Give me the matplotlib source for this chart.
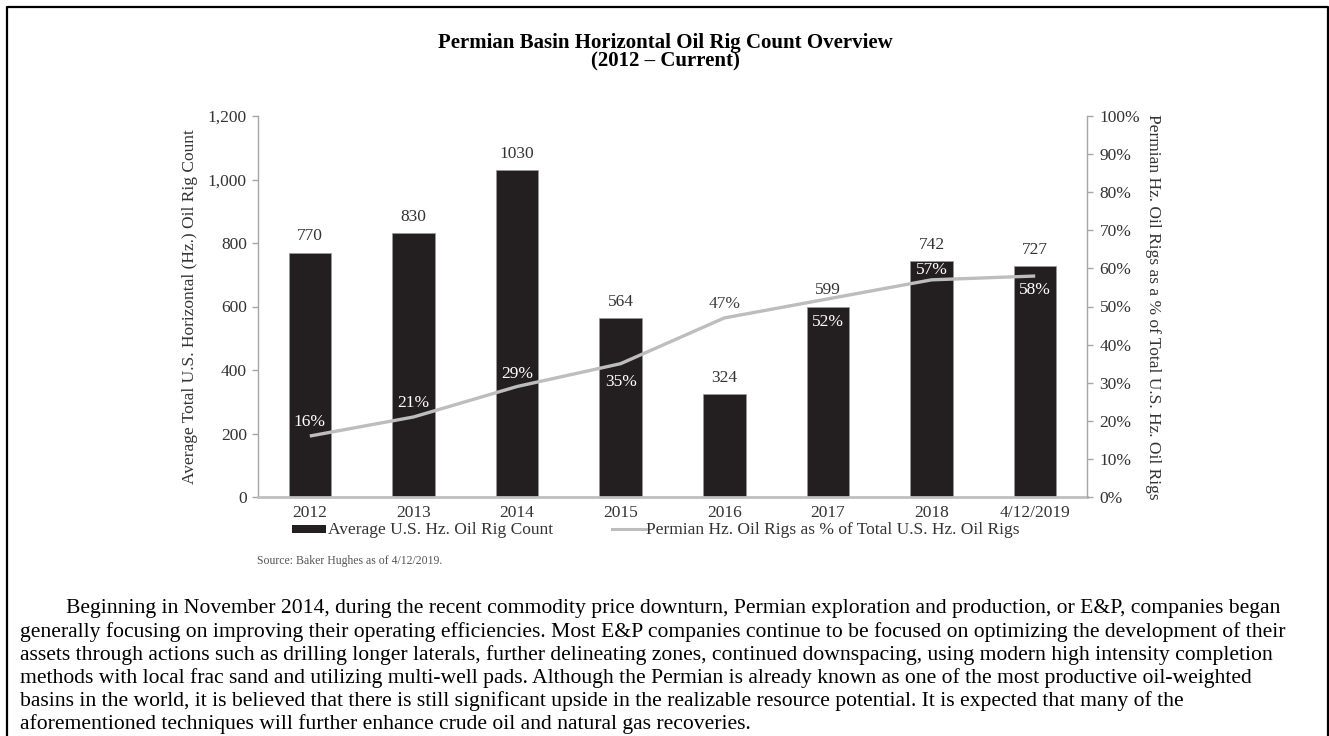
import matplotlib
matplotlib.use("Agg")
import matplotlib.pyplot as plt
from matplotlib.patches import Rectangle
from matplotlib.lines import Line2D
import numpy as np

plt.rcParams['font.family'] = ['Liberation Serif', 'DejaVu Serif']

# ---- data ----
categories = ["2012", "2013", "2014", "2015", "2016", "2017", "2018", "4/12/2019"]
rig_count = [770, 830, 1030, 564, 324, 599, 742, 727]
permian_pct = [16, 21, 29, 35, 47, 52, 57, 58]

title_lines = ["Permian Basin Horizontal Oil Rig Count Overview", "(2012 \u2013 Current)"]
left_label = "Average Total U.S. Horizontal (Hz.) Oil Rig Count"
right_label = "Permian Hz. Oil Rigs as a % of Total U.S. Hz. Oil Rigs"
legend_bar = "Average U.S. Hz. Oil Rig Count"
legend_line = "Permian Hz. Oil Rigs as % of Total U.S. Hz. Oil Rigs"
source_text = "Source: Baker Hughes as of 4/12/2019."
paragraph_lines = [
    "Beginning in November 2014, during the recent commodity price downturn, Permian exploration and production, or E&P, companies began",
    "generally focusing on improving their operating efficiencies. Most E&P companies continue to be focused on optimizing the development of their",
    "assets through actions such as drilling longer laterals, further delineating zones, continued downspacing, using modern high intensity completion",
    "methods with local frac sand and utilizing multi-well pads. Although the Permian is already known as one of the most productive oil-weighted",
    "basins in the world, it is believed that there is still significant upside in the realizable resource potential. It is expected that many of the",
    "aforementioned techniques will further enhance crude oil and natural gas recoveries.",
]

# ---- style ----
W, H, DPI = 1329, 736, 100
bar_color = "#231f20"
line_color = "#bdbdbd"
axis_color = "#a6a6a6"
text_color = "#333333"
FS = 12.5
# label offsets in points (positive = above point)
pct_offsets = [10, 10, 9, -13, 10, -17, 7, -10]
pct_colors = ["white", "white", "white", "white", "#404040", "white", "white", "white"]

fig = plt.figure(figsize=(W / DPI, H / DPI), dpi=DPI)
fig.patch.set_facecolor("white")

# outer border (open at bottom)
fig.add_artist(Line2D([7 / W, 7 / W, 1328 / W, 1328 / W], [0, 1 - 7 / H, 1 - 7 / H, 0],
                      transform=fig.transFigure, color="black", lw=1.6))

ax = fig.add_axes([258 / W, 1 - 497 / H, (1087 - 258) / W, (497 - 116) / H])
x = np.arange(len(categories))
bars = ax.bar(x, rig_count, width=0.41, color=bar_color, edgecolor="#9a9a9a", linewidth=0.5, zorder=2)
ax.set_xlim(-0.5, len(categories) - 0.5)
ax.set_ylim(0, 1200)
ax.set_yticks(np.arange(0, 1201, 200))
ax.set_yticklabels([f"{v:,}" for v in range(0, 1201, 200)])
ax.set_xticks(x)
ax.set_xticklabels(categories)

for s in ["top", "right"]:
    ax.spines[s].set_visible(False)
ax.spines["left"].set_color(axis_color)
ax.spines["left"].set_linewidth(1.0)
ax.spines["bottom"].set_color("#bfbfbf")
ax.spines["bottom"].set_linewidth(2.0)
ax.tick_params(axis="y", colors=axis_color, length=4, width=1, labelcolor=text_color, labelsize=FS, pad=4)
ax.tick_params(axis="x", length=0, labelcolor=text_color, labelsize=FS, pad=6)
ax.set_ylabel(left_label, fontsize=FS, color=text_color)
ax.yaxis.set_label_coords((198 - 258) / 829, 0.5)

for xi, v in zip(x, rig_count):
    ax.annotate(f"{v}", (xi, v), xytext=(0, 6), textcoords="offset points",
                ha="center", va="bottom", fontsize=FS, color=text_color)

ax2 = ax.twinx()
ax2.plot(x, permian_pct, color=line_color, lw=2.4, zorder=3, solid_capstyle="butt")
ax2.set_ylim(0, 100)
ax2.set_yticks(np.arange(0, 101, 10))
ax2.set_yticklabels([f"{v}%" for v in range(0, 101, 10)])
for s in ["top", "left", "bottom"]:
    ax2.spines[s].set_visible(False)
ax2.spines["right"].set_color(axis_color)
ax2.spines["right"].set_linewidth(1.0)
ax2.tick_params(axis="y", colors=axis_color, length=4, width=1, labelcolor=text_color, labelsize=FS, pad=5)
ax2.set_ylabel(right_label, fontsize=FS, color=text_color, rotation=-90, va="center")
ax2.yaxis.set_label_coords((1153 - 258) / 829, 0.5)

for xi, p, off, c in zip(x, permian_pct, pct_offsets, pct_colors):
    ax2.annotate(f"{p}%", (xi, p), xytext=(0, off), textcoords="offset points",
                 ha="center", va="center", fontsize=FS, color=c, zorder=4)

# title
fig.text(665 / W, 1 - 43 / H, title_lines[0], ha="center", va="center", fontsize=15, fontweight="bold")
fig.text(665 / W, 1 - 61 / H, title_lines[1], ha="center", va="center", fontsize=15, fontweight="bold")

# legend (manual)
fig.add_artist(Rectangle((292 / W, 1 - 533 / H), 34 / W, 8 / H, transform=fig.transFigure,
                         facecolor=bar_color, edgecolor="none"))
fig.text(328 / W, 1 - 530 / H, legend_bar, ha="left", va="center", fontsize=FS, color=text_color)
fig.add_artist(Line2D([612 / W, 646 / W], [1 - 529 / H, 1 - 529 / H], transform=fig.transFigure,
                      color=line_color, lw=2.2))
fig.text(646 / W, 1 - 530 / H, legend_line, ha="left", va="center", fontsize=FS, color=text_color)

fig.text(257 / W, 1 - 561 / H, source_text, ha="left", va="center", fontsize=8.5, color="#555555")

# paragraph
para_y0 = 609
para_dy = 23
for i, line in enumerate(paragraph_lines):
    x0 = 66 if i == 0 else 20
    fig.text(x0 / W, 1 - (para_y0 + i * para_dy) / H, line, ha="left", va="center",
             fontsize=15.6, color="black")

fig.savefig("out.png", dpi=DPI, facecolor="white")
